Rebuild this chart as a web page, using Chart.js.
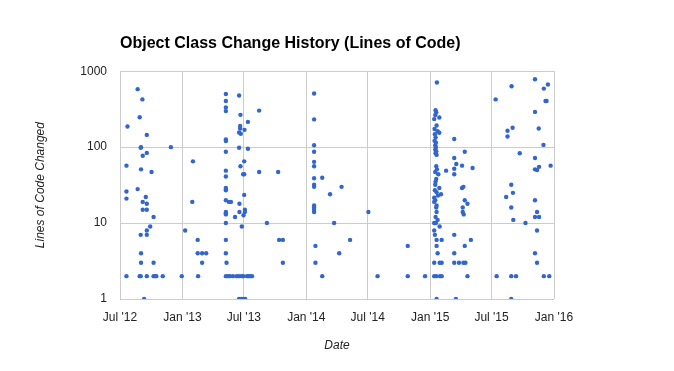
<!DOCTYPE html>
<html>
<head>
<meta charset="utf-8">
<script src="https://cdn.jsdelivr.net/npm/chart.js@4.4.1/dist/chart.umd.min.js"></script>
<style>
  html, body { margin: 0; padding: 0; background: #fff; }
  #wrap { width: 674px; height: 371px; position: relative; }
</style>
</head>
<body>
<div id="wrap"><canvas id="history"></canvas></div>
<script>
// commit dates and lines changed
var changeDates = [
    '2012-07-20','2012-07-20','2012-07-20','2012-07-20','2012-07-23','2012-08-22','2012-08-22','2012-08-28','2012-08-28',
    '2012-08-31','2012-08-31','2012-08-31','2012-09-01','2012-09-01','2012-09-01','2012-09-01','2012-09-05','2012-09-06',
    '2012-09-06','2012-09-06','2012-09-10','2012-09-15','2012-09-18','2012-09-18','2012-09-18','2012-09-18','2012-09-18',
    '2012-09-18','2012-09-18','2012-09-28','2012-10-02','2012-10-08','2012-10-08','2012-10-08','2012-10-12','2012-10-16',
    '2012-11-04','2012-11-28','2012-12-30',
    '2013-01-09','2013-01-30','2013-02-01','2013-02-15','2013-02-15','2013-02-16','2013-02-28','2013-02-28','2013-03-12',
    '2013-05-09','2013-05-09','2013-05-09','2013-05-09','2013-05-09','2013-05-09','2013-05-09','2013-05-09','2013-05-09',
    '2013-05-09','2013-05-09','2013-05-09','2013-05-09','2013-05-09','2013-05-09','2013-05-09','2013-05-09','2013-05-09',
    '2013-05-09','2013-05-09','2013-05-11','2013-05-15','2013-05-18','2013-05-21','2013-05-24','2013-05-30',
    '2013-06-05','2013-06-10','2013-06-17','2013-06-17','2013-06-17','2013-06-17','2013-06-17','2013-06-18','2013-06-18',
    '2013-06-20','2013-06-20','2013-06-21','2013-06-21','2013-06-22','2013-06-23','2013-06-25','2013-06-25','2013-06-29',
    '2013-06-29','2013-06-29','2013-06-30','2013-07-02','2013-07-02','2013-07-02','2013-07-03','2013-07-04','2013-07-04',
    '2013-07-05','2013-07-10','2013-07-13','2013-07-13','2013-07-15','2013-07-20','2013-07-25','2013-08-15','2013-08-15',
    '2013-09-07','2013-10-10','2013-10-13','2013-10-24','2013-10-24',
    '2014-01-24','2014-01-24','2014-01-24','2014-01-24','2014-01-24','2014-01-24','2014-01-24','2014-01-24','2014-01-24',
    '2014-01-24','2014-01-24','2014-01-24','2014-01-24','2014-01-28','2014-01-28','2014-02-17','2014-02-17','2014-03-12',
    '2014-03-24','2014-04-08','2014-04-15','2014-05-10','2014-07-03','2014-07-30','2014-10-27','2014-10-27','2014-12-17',
    '2015-01-13','2015-01-13','2015-01-13','2015-01-13','2015-01-13','2015-01-13','2015-01-13','2015-01-14','2015-01-14',
    '2015-01-15','2015-01-15','2015-01-15','2015-01-16','2015-01-16','2015-01-16','2015-01-16','2015-01-16','2015-01-16',
    '2015-01-17','2015-01-17','2015-01-17','2015-01-17','2015-01-17','2015-01-18','2015-01-18','2015-01-18','2015-01-19',
    '2015-01-19','2015-01-19','2015-01-19','2015-01-19','2015-01-19','2015-01-20','2015-01-20','2015-01-20','2015-01-20',
    '2015-01-20','2015-01-20','2015-01-20','2015-01-20','2015-01-21','2015-01-21','2015-01-23','2015-01-23','2015-01-23',
    '2015-01-24','2015-01-25','2015-01-28','2015-01-28','2015-01-28','2015-01-29','2015-01-29','2015-01-30','2015-02-02',
    '2015-02-04','2015-02-04','2015-02-04','2015-02-17',
    '2015-03-13','2015-03-13','2015-03-13','2015-03-13','2015-03-13','2015-03-13','2015-03-13','2015-03-18','2015-03-19',
    '2015-03-27','2015-04-05','2015-04-05','2015-04-07','2015-04-07','2015-04-09','2015-04-09','2015-04-10','2015-04-13',
    '2015-04-13','2015-04-13','2015-04-15','2015-04-21','2015-04-21','2015-05-01','2015-05-06',
    '2015-07-13','2015-07-16','2015-08-13','2015-08-17','2015-08-17','2015-08-28','2015-08-28','2015-08-28','2015-08-28',
    '2015-08-29','2015-09-01','2015-09-02','2015-09-03','2015-09-11','2015-09-22','2015-10-09','2015-11-06','2015-11-06',
    '2015-11-06','2015-11-06','2015-11-06','2015-11-06','2015-11-06','2015-11-12','2015-11-12','2015-11-12','2015-11-12',
    '2015-11-17','2015-11-18','2015-11-18','2015-12-01','2015-12-02','2015-12-02','2015-12-07','2015-12-10','2015-12-14',
    '2015-12-18','2015-12-22'
];
var linesChanged = [
    57, 26, 21, 2, 187, 580, 28, 248, 2,
    98, 7, 2, 100, 51, 4, 3, 425, 77,
    19, 15, 1, 22, 145, 84, 18, 15, 8,
    7, 2, 9, 47, 12, 3, 2, 2, 2,
    2, 100, 2,
    8, 19, 65, 6, 4, 2, 4, 3, 4,
    500, 405, 333, 298, 126, 120, 87, 49, 41,
    29, 28, 27, 20, 14, 13.5, 13, 10, 6,
    4, 2, 3, 2, 19, 2, 19, 2,
    12, 2, 478, 156, 98, 2, 1, 18, 14,
    190, 176, 266, 56, 150, 1, 9, 2, 44,
    2, 1, 12.7, 65, 44, 23.5, 169, 15, 14,
    1, 2, 215, 95, 2, 2, 2, 303, 47,
    10, 47, 6, 6, 3,
    508, 232, 106, 87, 64, 56, 39, 32, 30,
    17, 16, 15, 14, 5, 3, 39.5, 2, 24,
    10, 4, 30, 6, 14, 2, 5, 2, 2,
    234, 21.5, 19, 10, 8, 3, 2, 173, 121,
    148, 27, 7, 264, 106, 93, 47, 32, 20,
    307, 134, 83, 35, 12, 114, 99, 10, 286,
    88, 56, 38, 16, 2, 193, 79, 25.5, 17,
    14, 6, 5, 1, 710, 51, 162, 11, 4,
    23, 44, 246, 155, 29, 9, 3, 2, 24,
    6, 3, 2, 49,
    128, 72, 52, 44, 7, 4, 3, 1, 60,
    3, 57, 29, 16, 14, 30, 3, 13, 87,
    20, 5, 3, 18, 2, 6, 53,
    425, 2, 22, 164, 138, 32, 16, 2, 1,
    633, 180, 25, 11, 2, 83, 10, 785, 291,
    72, 51, 20, 12, 4, 50, 14, 8, 3,
    176, 55, 12, 107, 590, 2, 405, 405, 668,
    2, 57
];
var monthTicks = ['2012-07-01', '2013-01-01', '2013-07-01', '2014-01-01', '2014-07-01', '2015-01-01', '2015-07-01', '2016-01-01'];
var locTicks = [1, 10, 100, 1000];

var monthNames = ['Jan', 'Feb', 'Mar', 'Apr', 'May', 'Jun', 'Jul', 'Aug', 'Sep', 'Oct', 'Nov', 'Dec'];
var toTime = function (s) { return Date.parse(s + 'T00:00:00Z'); };
var tickTimes = monthTicks.map(toTime);

var points = changeDates.map(function (d, i) {
    return {x: toTime(d), y: linesChanged[i]};
});

Chart.defaults.font.family = "'Liberation Sans', Arial, sans-serif";
Chart.defaults.color = "#222222";

var ctx = document.getElementById('history').getContext('2d');
var historyChart = new Chart(ctx, {
    type: 'scatter',
    data: {
        datasets: [{
            data: points,
            backgroundColor: '#3366cc',
            borderColor: '#3366cc',
            borderWidth: 0,
            pointRadius: 2.2,
            pointHoverRadius: 3
        }]
    },
    options: {
        responsive: true,
        maintainAspectRatio: false,
        animation: false,
        layout: {padding: {left: 0, right: 120, top: 0, bottom: 0}},
        plugins: {
            legend: {display: false},
            tooltip: {enabled: false},
            title: {
                display: true,
                text: 'Object Class Change History (Lines of Code)',
                align: 'start',
                fullSize: false,
                color: '#000000',
                font: {size: 16, weight: 'bold'},
                padding: {top: 34, bottom: 18}
            }
        },
        scales: {
            x: {
                type: 'linear',
                min: tickTimes[0],
                max: tickTimes[tickTimes.length - 1],
                afterBuildTicks: function (scale) {
                    scale.ticks = tickTimes.map(function (t) { return {value: t}; });
                },
                afterFit: function (scale) { scale.height = 72; },
                grid: {color: '#cccccc', drawTicks: false},
                border: {display: false},
                ticks: {
                    padding: 11,
                    maxRotation: 0,
                    autoSkip: false,
                    font: {size: 12},
                    color: '#222222',
                    callback: function (value) {
                        var d = new Date(value);
                        return monthNames[d.getUTCMonth()] + " '" + String(d.getUTCFullYear()).slice(2);
                    }
                },
                title: {
                    display: true,
                    text: 'Date',
                    color: '#222222',
                    font: {size: 12, style: 'italic'},
                    padding: {top: 0, bottom: 18}
                }
            },
            y: {
                type: 'logarithmic',
                min: 1,
                max: 1000,
                afterBuildTicks: function (scale) {
                    scale.ticks = locTicks.map(function (v) { return {value: v}; });
                },
                afterFit: function (scale) { scale.width = 120; },
                grid: {color: '#cccccc', drawTicks: false},
                border: {display: false},
                ticks: {
                    padding: 13,
                    font: {size: 12},
                    color: '#222222',
                    callback: function (value) { return String(value); }
                },
                title: {
                    display: true,
                    text: 'Lines of Code Changed',
                    color: '#222222',
                    font: {size: 12, style: 'italic'},
                    padding: {top: 33, bottom: 0}
                }
            }
        }
    }
});
</script>
</body>
</html>
